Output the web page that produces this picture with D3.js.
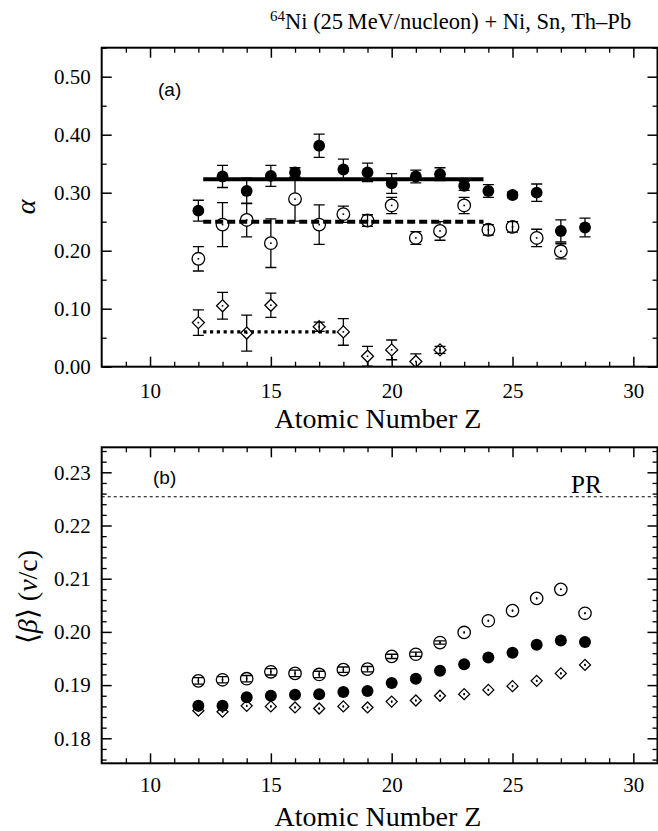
<!DOCTYPE html>
<html>
<head>
<meta charset="utf-8">
<script src="https://cdn.jsdelivr.net/npm/d3@7/dist/d3.min.js"></script>
<style>
  body { margin: 0; background: #fff; }
</style>
</head>
<body>
<div id="chart"></div>
<script>
// ---- data ----
// panel (a): alpha vs Z
var zFilledA   = [12, 13, 14, 15, 16, 17, 18, 19, 20, 21, 22, 23, 24, 25, 26, 27, 28];
var alphaFilled    = [0.269, 0.328, 0.303, 0.329, 0.335, 0.381, 0.340, 0.335, 0.316, 0.328, 0.332, 0.312, 0.303, 0.296, 0.300, 0.234, 0.240];
var alphaFilledErr = [0.018, 0.019, 0.022, 0.018, 0.008, 0.020, 0.018, 0.016, 0.017, 0.011, 0.011, 0.008, 0.011, 0.005, 0.015, 0.019, 0.016];

var zOpenA     = [12, 13, 14, 15, 16, 17, 18, 19, 20, 21, 22, 23, 24, 25, 26, 27];
var alphaOpen    = [0.186, 0.245, 0.253, 0.213, 0.289, 0.245, 0.263, 0.252, 0.278, 0.222, 0.234, 0.278, 0.236, 0.241, 0.222, 0.199];
var alphaOpenErr = [0.021, 0.038, 0.029, 0.042, 0.038, 0.034, 0.014, 0.010, 0.014, 0.011, 0.016, 0.014, 0.009, 0.009, 0.015, 0.013];

var zDiamondA  = [12, 13, 14, 15, 17, 18, 19, 20, 21, 22];
var alphaDiamond    = [0.076, 0.105, 0.058, 0.106, 0.069, 0.060, 0.018, 0.029, 0.009, 0.029];
var alphaDiamondErr = [0.022, 0.023, 0.031, 0.021, 0.008, 0.023, 0.017, 0.017, 0.013, 0.006];

// mean values drawn as horizontal lines: [level, zFrom, zTo]
var fitSolid  = [0.323, 12.2, 23.8];
var fitDashed = [0.250, 12.2, 23.8];
var fitDotted = [0.060, 12.2, 17.8];

// panel (b): <beta> vs Z
var zB = [12, 13, 14, 15, 16, 17, 18, 19, 20, 21, 22, 23, 24, 25, 26, 27, 28];
var betaOpen    = [0.1908, 0.1910, 0.1912, 0.1925, 0.1922, 0.1920, 0.1929, 0.1930, 0.1954, 0.1958, 0.1980, 0.1999, 0.2021, 0.2040, 0.2063, 0.2080, 0.2035];
var betaOpenErr = [0.0006, 0.0006, 0.0006, 0.0006, 0.0006, 0.0006, 0.0005, 0.0005, 0.0004, 0.0004, 0.0003, 0.0002, 0.0002, 0.0002, 0.0002, 0.0001, 0.0002];
var betaFilled  = [0.1861, 0.1861, 0.1877, 0.1880, 0.1882, 0.1883, 0.1887, 0.1889, 0.1904, 0.1912, 0.1927, 0.1939, 0.1952, 0.1961, 0.1976, 0.1984, 0.1981];
var betaDiamond = [0.1852, 0.1850, 0.1861, 0.1860, 0.1858, 0.1856, 0.1860, 0.1858, 0.1869, 0.1871, 0.1880, 0.1883, 0.1891, 0.1898, 0.1908, 0.1922, 0.1938];
var betaDiamondErr = [0.0002, 0.0002, 0.0002, 0.0002, 0.0002, 0.0002, 0.0002, 0.0002, 0.0002, 0.0002, 0.0002, 0.0002, 0.0002, 0.0002, 0.0002, 0.0002, 0.0002];
var betaPR = 0.2254;

var xMajor = [10, 15, 20, 25, 30];
var yMajorA = [0, 0.1, 0.2, 0.3, 0.4, 0.5];
var yMajorB = [0.18, 0.19, 0.20, 0.21, 0.22, 0.23];

// ---- layout ----
var W = 658, H = 831;
var left = 101.7, right = 657.5;
var SERIF = "'Liberation Serif', 'Times New Roman', serif";
var SANS = "'Liberation Sans', Arial, sans-serif";

var svg = d3.select("#chart").append("svg")
    .attr("width", W)
    .attr("height", H)
    .attr("font-family", SERIF);

var x = d3.scaleLinear().domain([8, 31]).range([left, right]);
var yA = d3.scaleLinear().domain([0, 0.55]).range([366.7, 47.7]);
var yB = d3.scaleLinear().domain([0.1753, 0.2347]).range([763.3, 447.3]);

function range(a, b, step) {
  return d3.range(Math.round(a / step), Math.round(b / step) + 1).map(function(k) { return +(k * step).toFixed(4); });
}

function cleanAxis(sel, width) {
  sel.attr("font-family", SERIF).attr("font-size", 21);
  sel.select(".domain").remove();
  sel.selectAll(".tick line").attr("stroke", "#000").attr("stroke-width", width);
  sel.selectAll(".tick text").attr("fill", "#000").attr("font-family", SERIF);
}

// frame with inward ticks on all four sides
function drawFrame(y, yMajor, yMinorStep, fmt, xPad) {
  var top = y.range()[1], bottom = y.range()[0];
  var xMinor = range(9, 31, 1).filter(function(v) { return v % 5 != 0; });
  var yMinor = range(y.domain()[0], y.domain()[1], yMinorStep).filter(function(v) {
    return v >= y.domain()[0] && v <= y.domain()[1] && yMajor.every(function(m) { return Math.abs(m - v) > 1e-6; });
  });

  svg.append("g").attr("transform", "translate(0," + bottom + ")")
      .call(d3.axisBottom(x).tickValues(xMajor).tickSize(-10).tickPadding(xPad).tickFormat(d3.format("d")))
      .call(cleanAxis, 1.5);
  svg.append("g").attr("transform", "translate(0," + bottom + ")")
      .call(d3.axisBottom(x).tickValues(xMinor).tickSize(-5).tickFormat(""))
      .call(cleanAxis, 1.3);
  svg.append("g").attr("transform", "translate(0," + top + ")")
      .call(d3.axisTop(x).tickValues(xMajor).tickSize(-10).tickFormat(""))
      .call(cleanAxis, 1.5);
  svg.append("g").attr("transform", "translate(0," + top + ")")
      .call(d3.axisTop(x).tickValues(xMinor).tickSize(-5).tickFormat(""))
      .call(cleanAxis, 1.3);

  svg.append("g").attr("transform", "translate(" + left + ",0)")
      .call(d3.axisLeft(y).tickValues(yMajor).tickSize(-10).tickPadding(11).tickFormat(d3.format(fmt)))
      .call(cleanAxis, 1.5);
  svg.append("g").attr("transform", "translate(" + left + ",0)")
      .call(d3.axisLeft(y).tickValues(yMinor).tickSize(-5).tickFormat(""))
      .call(cleanAxis, 1.3);
  svg.append("g").attr("transform", "translate(" + right + ",0)")
      .call(d3.axisRight(y).tickValues(yMajor).tickSize(-10).tickFormat(""))
      .call(cleanAxis, 1.5);
  svg.append("g").attr("transform", "translate(" + right + ",0)")
      .call(d3.axisRight(y).tickValues(yMinor).tickSize(-5).tickFormat(""))
      .call(cleanAxis, 1.3);

  svg.append("rect")
      .attr("x", left).attr("y", top)
      .attr("width", right - left).attr("height", bottom - top)
      .attr("fill", "none").attr("stroke", "#000").attr("stroke-width", 2);
}

// markers with error bars, drawn the way the original does:
// on open markers the bar stops at the marker edge unless it is shorter than the marker
function drawSeries(g, y, zs, vals, errs, shape, r) {
  var cap = 5.5;
  zs.forEach(function(z, i) {
    var cx = x(z), cy = y(vals[i]);
    var e = errs ? Math.abs(y(vals[i] + errs[i]) - cy) : 0;
    var open = shape != "filled";
    var bar = g.append("g").attr("stroke", "#000").attr("stroke-width", 1.3);

    if (e > 0) {
      if (!open || e <= r) {
        bar.append("line").attr("x1", cx).attr("x2", cx).attr("y1", cy - e).attr("y2", cy + e);
      } else {
        bar.append("line").attr("x1", cx).attr("x2", cx).attr("y1", cy - e).attr("y2", cy - r);
        bar.append("line").attr("x1", cx).attr("x2", cx).attr("y1", cy + r).attr("y2", cy + e);
      }
      if (e > 1.5) {
        bar.append("line").attr("x1", cx - cap).attr("x2", cx + cap).attr("y1", cy - e).attr("y2", cy - e);
        bar.append("line").attr("x1", cx - cap).attr("x2", cx + cap).attr("y1", cy + e).attr("y2", cy + e);
      }
    }

    var m;
    if (shape == "diamond") {
      m = g.append("path").attr("d", "M" + cx + "," + (cy - r) + "L" + (cx + r) + "," + cy +
          "L" + cx + "," + (cy + r) + "L" + (cx - r) + "," + cy + "Z");
    } else {
      m = g.append("circle").attr("cx", cx).attr("cy", cy).attr("r", r);
    }
    if (open) {
      m.attr("fill", "none").attr("stroke", "#000").attr("stroke-width", 1.3);
      // a short bar stays visible through the open marker
      if (e > 0 && e <= r) bar.raise();
      g.append("rect").attr("x", cx - 0.8).attr("y", cy - 0.8).attr("width", 1.6).attr("height", 1.6).attr("fill", "#000");
    } else {
      m.attr("fill", "#000");
    }
  });
}

function hline(g, y, spec, width, dash) {
  g.append("line")
      .attr("x1", x(spec[1])).attr("x2", x(spec[2]))
      .attr("y1", y(spec[0])).attr("y2", y(spec[0]))
      .attr("stroke", "#000").attr("stroke-width", width)
      .attr("stroke-dasharray", dash);
}

// ---- title ----
var title = svg.append("text").attr("x", 270).attr("y", 29)
    .attr("font-family", SERIF).attr("font-size", 22.5);
title.append("tspan").attr("font-size", 15).attr("dy", -8).text("64");
title.append("tspan").attr("dy", 8).text("Ni (25\u2009MeV/nucleon) + Ni, Sn, Th\u2013Pb");

// ---- panel (a) ----
svg.append("clipPath").attr("id", "clipA").append("rect")
    .attr("x", left).attr("y", yA.range()[1])
    .attr("width", right - left).attr("height", yA.range()[0] - yA.range()[1]);

var gA = svg.append("g").attr("clip-path", "url(#clipA)");
drawSeries(gA, yA, zOpenA, alphaOpen, alphaOpenErr, "open", 6.3);
drawSeries(gA, yA, zDiamondA, alphaDiamond, alphaDiamondErr, "diamond", 6);
drawSeries(gA, yA, zFilledA, alphaFilled, alphaFilledErr, "filled", 5.9);
hline(gA, yA, fitSolid, 4, null);
hline(gA, yA, fitDashed, 4, "8,4");
hline(gA, yA, fitDotted, 3.2, "3.2,3.6");

drawFrame(yA, yMajorA, 0.05, ".2f", 16);

svg.append("text")
    .attr("x", 158).attr("y", 96)
    .attr("font-family", SANS).attr("font-size", 19).text("(a)");

svg.append("text")
    .attr("transform", "translate(35,207) rotate(-90)")
    .attr("text-anchor", "middle")
    .attr("font-family", SERIF).attr("font-size", 28)
    .attr("font-style", "italic").text("\u03b1");

svg.append("text")
    .attr("x", 378).attr("y", 428)
    .attr("text-anchor", "middle")
    .attr("font-family", SERIF).attr("font-size", 28)
    .text("Atomic Number Z");

// ---- panel (b) ----
svg.append("clipPath").attr("id", "clipB").append("rect")
    .attr("x", left).attr("y", yB.range()[1])
    .attr("width", right - left).attr("height", yB.range()[0] - yB.range()[1]);

var gB = svg.append("g").attr("clip-path", "url(#clipB)");
gB.append("line")
    .attr("x1", left).attr("x2", right)
    .attr("y1", yB(betaPR)).attr("y2", yB(betaPR))
    .attr("stroke", "#000").attr("stroke-width", 1.2)
    .attr("stroke-dasharray", "3,3");
drawSeries(gB, yB, zB, betaDiamond, betaDiamondErr, "diamond", 5.5);
drawSeries(gB, yB, zB, betaOpen, betaOpenErr, "open", 6.2);
drawSeries(gB, yB, zB, betaFilled, null, "filled", 6);

drawFrame(yB, yMajorB, 0.002, ".2f", 14);

svg.append("text")
    .attr("x", 153).attr("y", 484)
    .attr("font-family", SANS).attr("font-size", 19).text("(b)");

svg.append("text")
    .attr("x", 571).attr("y", 493)
    .attr("font-family", SERIF).attr("font-size", 25).text("PR");

var yl = svg.append("text")
    .attr("transform", "translate(37,597) rotate(-90)")
    .attr("text-anchor", "middle")
    .attr("font-family", SERIF).attr("font-size", 28);
yl.append("tspan").text("\u27e8");
yl.append("tspan").attr("font-style", "italic").text("\u03b2");
yl.append("tspan").text("\u27e9 (");
yl.append("tspan").attr("font-style", "italic").text("v");
yl.append("tspan").text("/c)");

svg.append("text")
    .attr("x", 378).attr("y", 826)
    .attr("text-anchor", "middle")
    .attr("font-family", SERIF).attr("font-size", 28)
    .text("Atomic Number Z");
</script>
</body>
</html>
